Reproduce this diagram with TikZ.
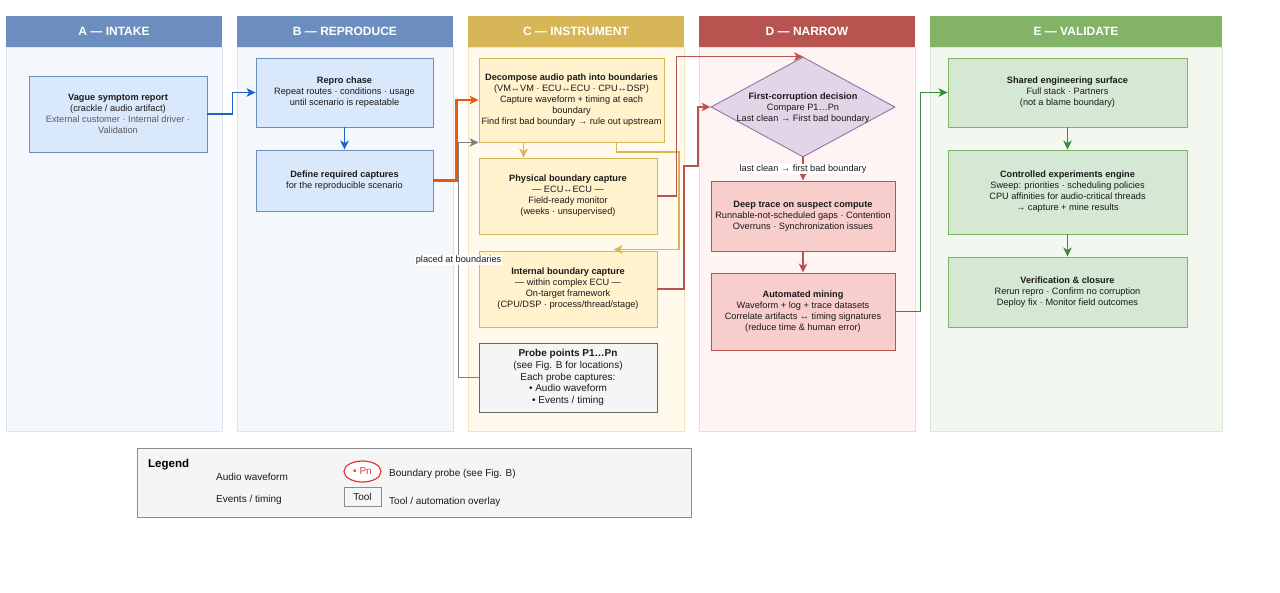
\documentclass[tikz,border=0pt]{standalone}
\usepackage{fontspec}
\setmainfont{Liberation Sans}
\usetikzlibrary{arrows.meta,shapes.geometric,calc}
\definecolor{txt}{HTML}{1A1A1A}
\definecolor{subgray}{HTML}{5A5A5A}
\definecolor{hdblue}{HTML}{6C8EBF}
\definecolor{hdgold}{HTML}{D6B656}
\definecolor{hdred}{HTML}{B85450}
\definecolor{hdgreen}{HTML}{82B366}
\definecolor{bodyA}{HTML}{F4F8FD}
\definecolor{bodyAl}{HTML}{D9E5F5}
\definecolor{bodyC}{HTML}{FFFAEC}
\definecolor{bodyCl}{HTML}{F3E6BF}
\definecolor{bodyD}{HTML}{FEF4F3}
\definecolor{bodyDl}{HTML}{F3DAD8}
\definecolor{bodyE}{HTML}{F2F8F0}
\definecolor{bodyEl}{HTML}{DCEAD4}
\definecolor{bxblue}{HTML}{DAE8FC}
\definecolor{bxgold}{HTML}{FFF2CC}
\definecolor{bxred}{HTML}{F8CECC}
\definecolor{bxgreen}{HTML}{D5E8D4}
\definecolor{bxgray}{HTML}{F5F5F5}
\definecolor{lngray}{HTML}{666666}
\definecolor{dmfill}{HTML}{E1D5E7}
\definecolor{dmline}{HTML}{9673A6}
\definecolor{arblue}{HTML}{1E62C8}
\definecolor{arorange}{HTML}{E8580C}
\definecolor{argray}{HTML}{7F7F7F}
\definecolor{argreen}{HTML}{3A8A3E}
\definecolor{legline}{HTML}{8C8C8C}
\definecolor{probered}{HTML}{E53935}
\begin{document}
\begin{tikzpicture}[x=1pt,y=-1pt,
  lanehd/.style={draw=none, inner sep=0, minimum height=31pt, text=white,
    font=\fontsize{12}{14}\selectfont\bfseries},
  lanebody/.style={inner sep=0, line width=0.8pt, minimum height=384pt},
  box/.style={draw, line width=0.9pt, inner sep=0, align=center,
    font=\fontsize{9.2}{11}\selectfont, text=txt},
  bbox/.style={box, fill=bxblue, draw=hdblue},
  gbox/.style={box, fill=bxgold, draw=hdgold},
  rbox/.style={box, fill=bxred, draw=hdred},
  ebox/.style={box, fill=bxgreen, draw=hdgreen},
  lbl/.style={fill=white, inner sep=1pt, font=\fontsize{9.2}{11}\selectfont, text=txt},
  legtxt/.style={anchor=west, inner sep=0, font=\fontsize{10}{12}\selectfont, text=txt},
  arr/.style={-{Stealth[length=9pt,width=8.5pt,inset=2.5pt]}, line width=1.7pt},
]
\useasboundingbox (0,0) rectangle (1280,592);
\fill[white] (0,0) rectangle (1280,592);

% ---------- lanes ----------
\node[lanebody, fill=bodyA, draw=bodyAl, minimum width=216pt] (LAb) at (114,239) {};
\node[lanebody, fill=bodyA, draw=bodyAl, minimum width=216pt] (LBb) at (345,239) {};
\node[lanebody, fill=bodyC, draw=bodyCl, minimum width=216pt] (LCb) at (576,239) {};
\node[lanebody, fill=bodyD, draw=bodyDl, minimum width=216pt] (LDb) at (807,239) {};
\node[lanebody, fill=bodyE, draw=bodyEl, minimum width=292pt] (LEb) at (1076,239) {};
\node[lanehd, fill=hdblue, minimum width=216pt] (LA) at (114,31.5) {A — INTAKE};
\node[lanehd, fill=hdblue, minimum width=216pt] (LB) at (345,31.5) {B — REPRODUCE};
\node[lanehd, fill=hdgold, minimum width=216pt] (LC) at (576,31.5) {C — INSTRUMENT};
\node[lanehd, fill=hdred, minimum width=216pt] (LD) at (807,31.5) {D — NARROW};
\node[lanehd, fill=hdgreen, minimum width=292pt] (LE) at (1076,31.5) {E — VALIDATE};

% ---------- A ----------
\node[bbox, minimum width=178pt, minimum height=76pt] (A1) at (118,114)
  {\textbf{Vague symptom report}\\(crackle / audio artifact)\\
   \textcolor{subgray}{External customer · Internal driver ·}\\
   \textcolor{subgray}{Validation}};

% ---------- B ----------
\node[bbox, minimum width=177pt, minimum height=69pt] (B1) at (344.5,92.5)
  {\textbf{Repro chase}\\Repeat routes · conditions · usage\\until scenario is repeatable};
\node[bbox, minimum width=177pt, minimum height=61pt] (B2) at (344.5,180.5)
  {\textbf{Define required captures}\\for the reproducible scenario};

% ---------- C ----------
\node[gbox, minimum width=185pt, minimum height=84pt] (C1) at (571.5,100)
  {\textbf{Decompose audio path into boundaries}\\(VM↔VM · ECU↔ECU · CPU↔DSP)\\
   Capture waveform + timing at each\\boundary\\Find first bad boundary → rule out upstream};
\node[gbox, minimum width=178pt, minimum height=76pt] (C2) at (568,196)
  {\textbf{Physical boundary capture}\\— ECU↔ECU —\\Field-ready monitor\\(weeks · unsupervised)};
\node[gbox, minimum width=178pt, minimum height=76pt] (C3) at (568,289)
  {\textbf{Internal boundary capture}\\— within complex ECU —\\On-target framework\\(CPU/DSP · process/thread/stage)};
\node[box, fill=bxgray, draw=lngray, minimum width=178pt, minimum height=69pt,
  font=\fontsize{10}{11.8}\selectfont] (C4) at (568,377.5)
  {\textbf{Probe points P1…Pn}\\(see Fig. B for locations)\\Each probe captures:\\• Audio waveform\\• Events / timing};

% ---------- D ----------
\node[diamond, draw=dmline, fill=dmfill, line width=0.9pt, inner sep=0,
  minimum width=184pt, minimum height=100pt] (D1) at (803,107) {};
\node[align=center, inner sep=0, font=\fontsize{9.2}{11}\selectfont, text=txt] (D1t) at (803,108.5)
  {\textbf{First-corruption decision}\\Compare P1…Pn\\Last clean → First bad boundary};
\node[rbox, minimum width=184pt, minimum height=70pt] (D2) at (803,216)
  {\textbf{Deep trace on suspect compute}\\Runnable-not-scheduled gaps · Contention\\Overruns · Synchronization issues};
\node[rbox, minimum width=184pt, minimum height=77pt] (D3) at (803,311.5)
  {\textbf{Automated mining}\\Waveform + log + trace datasets\\Correlate artifacts ↔ timing signatures\\(reduce time \& human error)};

% ---------- E ----------
\node[ebox, minimum width=239pt, minimum height=69pt] (E1) at (1067.5,92.5)
  {\textbf{Shared engineering surface}\\Full stack · Partners\\(not a blame boundary)};
\node[ebox, minimum width=239pt, minimum height=84pt] (E2) at (1067.5,192)
  {\textbf{Controlled experiments engine}\\Sweep: priorities · scheduling policies\\CPU affinities for audio-critical threads\\→ capture + mine results};
\node[ebox, minimum width=239pt, minimum height=70pt] (E3) at (1067.5,292)
  {\textbf{Verification \& closure}\\Rerun repro · Confirm no corruption\\Deploy fix · Monitor field outcomes};

% ---------- connectors ----------
\draw[arr, arblue] (A1.east) -- ++(25,0) |- (B1.west);
\draw[arr, arblue] (B1.south) -- (B2.north);
\draw[arr, arorange, line width=2.2pt] (B2.east) -- ++(23,0) |- (C1.west);
\draw[arr, argray, line width=1.1pt] (C4.west) -- ++(-20,0)
  |- node[pos=0.25, lbl] {placed at boundaries} (C1.south west);
\draw[arr, hdgold] ($(C1.south west)+(45,0)$) -- ($(C2.north west)+(45,0)$);
\coordinate (G1) at (679,152);
\draw[arr, hdgold] ($(C1.south west)+(138,0)$) |- (G1) |- ($(C3.north west)+(135,-1)$);
\draw[arr, hdred] (C2.east) -- ++(19,0) |- (D1.north);
\coordinate (R1) at (684,166);
\coordinate (R2) at (698,166);
\draw[arr, hdred] (C3.east) -| (R1) -- (R2) |- (D1.west);
\draw[arr, hdred] (D1.south) -- node[midway, lbl] {last clean → first bad boundary} (D2.north);
\draw[arr, hdred] (D2.south) -- (D3.north);
\draw[arr, argreen] (D3.east) -- ++(25,0) |- (E1.west);
\draw[arr, argreen] (E1.south) -- (E2.north);
\draw[arr, argreen] (E2.south) -- (E3.north);

% ---------- legend ----------
\node[draw=legline, fill=bxgray, line width=0.9pt, minimum width=554pt, minimum height=69pt, inner sep=0] (LG) at (414,482.5) {};
\node[anchor=west, inner sep=0, font=\fontsize{11.5}{13}\selectfont\bfseries, text=black] (LGt) at (148,465) {Legend};
\node[legtxt] (LG1) at (216,477) {Audio waveform};
\node[legtxt] (LG2) at (216,500) {Events / timing};
\node[ellipse, draw=probered, fill=white, line width=1.2pt, minimum width=37pt, minimum height=21pt, inner sep=0,
  text=probered, font=\fontsize{10}{12}\selectfont] (LG3) at (362.5,471.5) {• Pn};
\node[draw=legline, fill=bxgray, line width=0.8pt, minimum width=37pt, minimum height=19pt, inner sep=0,
  text=txt, font=\fontsize{10}{12}\selectfont] (LG4) at (362.5,497) {Tool};
\node[legtxt] (LG5) at (389,474) {Boundary probe (see Fig. B)};
\node[legtxt] (LG6) at (389,502) {Tool / automation overlay};
\end{tikzpicture}
\end{document}
